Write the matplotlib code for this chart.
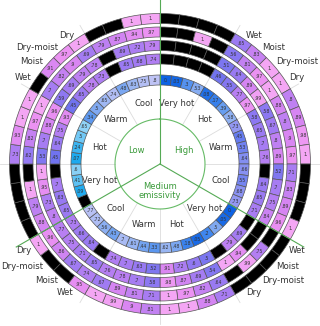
import numpy as np
import matplotlib
matplotlib.use("Agg")
import matplotlib.pyplot as plt
from matplotlib.colors import LinearSegmentedColormap

nan = np.nan
# clockwise from top: High (Very hot, Hot, Warm, Cool), Medium (...), Low (...)
emissivity = ["High", "Medium\nemissivity", "Low"]
temperature = ["Very hot", "Hot", "Warm", "Cool"]
humidity = ["Wet", "Moist", "Dry-moist", "Dry"]
label_sectors = [1, 4, 7, 10]

ring0 = [0, .03, .3, .53, .08, .17, .39, .58, .73, .45, .53, .64, .66, .55, .68, .73,
         0, .05, .5, .2, .05, .18, .48, .62, .33, .44, .61, .7, .43, .56, .72, .77,
         nan, .09, .41, .6, .07, .24, .5, .65, .34, .5, .65, .74, .48, .63, .75, .8]
ring1 = [nan, nan, nan, nan, .46, .55, .77, .97, .58, .65, .7, .76, nan, .64, .65, .71,
         nan, .69, .79, nan, .5, .6, .72, .91, .52, .63, .7, .74, nan, .64, .66, .73,
         .65, .63, .7, nan, .45, .64, .75, .93, .45, .65, .78, .73, nan, .65, .68, .74]
ring2 = [nan, nan, nan, nan, .51, .64, .89, .99, .58, .67, .8, .89, .52, .7, .75, .84,
         nan, nan, .94, 1., .54, .69, .87, .98, .58, .7, .78, .76, .65, .71, .75, .77,
         .8, .73, .95, 1., .53, .7, .88, .96, .59, .69, .79, .78, nan, .69, .72, .79]
ring3 = [nan, nan, 1., nan, .56, .81, .97, 1., .88, .8, .9, .97, .71, .83, .89, .96,
         nan, .75, .99, nan, .64, .82, .97, 1., .71, .81, .89, .67, .74, .67, .86, .96,
         .88, .79, 1., nan, .62, .82, .97, 1., .7, .82, .9, .69, .79, .87, .94, .97]
ring4 = [nan, nan, nan, nan, .65, .83, 1., 1., .8, .89, .98, 1., nan, nan, nan, 1.,
         nan, nan, nan, nan, .71, .88, 1., 1., .81, .9, .99, 1., .95, nan, nan, 1.,
         nan, nan, nan, nan, .73, .93, 1., 1., nan, .91, .97, 1., nan, nan, 1., 1.]

rings = [ring0, ring1, ring2, ring3, ring4]
bottoms = [79, 100, 113.5, 127, 140.5]
ring_h = 10

inner_cmaps = {
    "b": LinearSegmentedColormap.from_list("b", [(0, "#0d62e4"), (0.2, "#3f86ee"), (0.4, "#6b9ff0"),
                                                 (0.6, "#94b3f2"), (0.8, "#bec3f5"), (1, "#d6d2f8")]),
    "c": LinearSegmentedColormap.from_list("c", [(0, "#12a6ee"), (0.3, "#45b8f2"), (0.6, "#88d0f6"),
                                                 (1, "#c0e4fa")]),
    "v": LinearSegmentedColormap.from_list("v", [(0, "#3a5cf0"), (0.4, "#5f78f0"), (0.55, "#7484f0"),
                                                 (0.7, "#8e94f2"), (0.85, "#a6a6f4"), (1, "#c0bcf6")]),
}
inner_style = ["b", "b", "v", "v", "b", "b", "b", "b", "c", "c", "b", "b"]
outer_cmap = LinearSegmentedColormap.from_list(
    "outer", [(0, "#3a60ee"), (0.4, "#6670ee"), (0.5, "#7a76f0"), (0.6, "#9078f2"), (0.7, "#a67cf2"),
              (0.8, "#bf80f2"), (0.9, "#d886f2"), (0.97, "#ea90f2"), (1, "#f4a6f4")])


def fmt(v):
    s = f"{v:.2f}".rstrip("0")
    return s[1:] if s.startswith("0.") and len(s) > 2 else s


W, H = 320, 326
cx, cy = 160, 164
R = 168
fig = plt.figure(figsize=(W / 100, H / 100), dpi=100)
ax = fig.add_axes([(cx - R) / W, (H - cy - R) / H, 2 * R / W, 2 * R / H], projection="polar")
ax.set_theta_zero_location("N")
ax.set_theta_direction(-1)
ax.set_ylim(0, R)
ax.set_axis_off()

n = len(ring0)
step = 2 * np.pi / n
theta = step * (np.arange(n) + 0.5)

# grey sector lines
for k in range(12):
    t = k * np.pi / 6
    if k % 4 != 0:
        ax.plot([t, t], [45, 160], color="#dcdcdc", lw=0.6, zorder=0)

for ri, (vals, b) in enumerate(zip(rings, bottoms)):
    vals = np.array(vals, dtype=float)
    cols = []
    for i, v in enumerate(vals):
        if not np.isfinite(v):
            cols.append("black")
        elif ri == 0:
            cols.append(inner_cmaps[inner_style[i // 4]](v))
        else:
            cols.append(outer_cmap(v))
    ax.bar(theta, ring_h, width=step, bottom=b, color=cols, edgecolor="#555555", linewidth=0.5, zorder=2)
    for t, v in zip(theta, vals):
        if np.isfinite(v):
            ax.text(t, b + ring_h / 2, fmt(v), ha="center", va="center", fontsize=3.3, color="#333333", zorder=3)

# inner circle and emissivity dividers
tt = np.linspace(0, 2 * np.pi, 300)
ax.plot(tt, np.full_like(tt, 45), color="#66bb66", lw=0.8, zorder=4)
for k in range(3):
    t = k * 2 * np.pi / 3
    ax.plot([t, t], [0, 166], color="#55aa55", lw=0.8, zorder=5)

for k, name in enumerate(emissivity):
    ax.text(np.deg2rad(60 + 120 * k), 27, name, ha="center", va="center", fontsize=6, color="#3a9a3a", zorder=6,
            linespacing=1.1)

for s in range(12):
    ax.text(np.deg2rad(30 * s + 15), 63, temperature[s % 4], ha="center", va="center", fontsize=6, color="#333333")

for s in label_sectors:
    for h, name in enumerate(humidity):
        c = 7.5 * (4 * s + h + 0.5)
        ha = "left" if np.sin(np.deg2rad(c)) > 0 else "right"
        ax.text(np.deg2rad(c), 155, name, ha=ha, va="center", fontsize=6.2, color="#333333")

fig.savefig("out.png", dpi=100)
